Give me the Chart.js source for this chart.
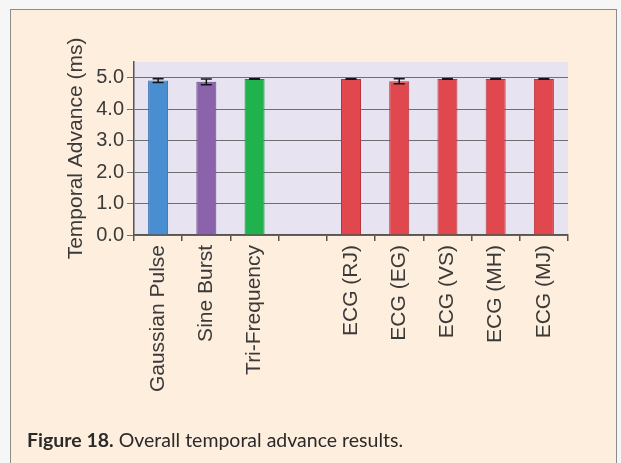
<!DOCTYPE html>
<html>
<head>
<meta charset="utf-8">
<script src="https://cdn.jsdelivr.net/npm/chart.js@4.4.1/dist/chart.umd.min.js"></script>
<style>
  html, body { margin: 0; padding: 0; background: #f6f6f6; }
  body { width: 621px; height: 463px; position: relative; overflow: hidden; }
  #frame { position: absolute; left: 10px; top: 9px; width: 605px; height: 480px; background: #fdeedd; border: 1px solid #8c8c8c; }
  #plot { position: absolute; left: 0; top: 0; }
  #caption { position: absolute; left: 27px; top: 429px; font-family: Lato, "Open Sans", sans-serif; font-size: 19.5px; line-height: 22px; color: #2a2a2a; white-space: nowrap; }
  #caption b { font-weight: 700; }
</style>
</head>
<body>
<div id="frame"></div>
<canvas id="plot" width="621" height="463"></canvas>
<div id="caption"><b>Figure 18.</b> Overall temporal advance results.</div>
<script>
// data
var categories = ['Gaussian Pulse', 'Sine Burst', 'Tri-Frequency', '', 'ECG (RJ)', 'ECG (EG)', 'ECG (VS)', 'ECG (MH)', 'ECG (MJ)'];
var temporalAdvance = [4.91, 4.87, 4.96, null, 4.96, 4.89, 4.96, 4.96, 4.96];
var errorMargin = [0.06, 0.09, 0.01, null, 0.01, 0.08, 0.01, 0.01, 0.01];
var barColors = ['#4a8ed2', '#8a63ab', '#1fb24d', null, '#e1474f', '#e1474f', '#e1474f', '#e1474f', '#e1474f'];
var barEdges = ['#2f6fae', '#6a4a8a', '#16903c', null, '#b8353c', '#b8353c', '#b8353c', '#b8353c', '#b8353c'];
var yTicks = [0, 1, 2, 3, 4, 5];

var axisFont = "'Liberation Sans', Arial, Helvetica, sans-serif";

var plotBackground = {
  id: 'plotBackground',
  beforeDraw: function (chart) {
    var ctx = chart.ctx, a = chart.chartArea;
    ctx.save();
    ctx.fillStyle = '#e7e3f1';
    ctx.fillRect(a.left, a.top, a.right - a.left, a.bottom - a.top);
    ctx.restore();
  }
};

var errorBars = {
  id: 'errorBars',
  afterDatasetsDraw: function (chart) {
    var ctx = chart.ctx, y = chart.scales.y;
    var meta = chart.getDatasetMeta(0);
    ctx.save();
    ctx.strokeStyle = '#151515';
    ctx.lineWidth = 1.5;
    meta.data.forEach(function (bar, i) {
      var v = temporalAdvance[i], e = errorMargin[i];
      if (v == null) return;
      var top = y.getPixelForValue(v + e);
      var bot = y.getPixelForValue(v - e);
      ctx.beginPath();
      ctx.moveTo(bar.x, top); ctx.lineTo(bar.x, bot);
      ctx.moveTo(bar.x - 5.5, top); ctx.lineTo(bar.x + 5.5, top);
      ctx.moveTo(bar.x - 5.5, bot); ctx.lineTo(bar.x + 5.5, bot);
      ctx.stroke();
    });
    ctx.restore();
  }
};

new Chart(document.getElementById('plot').getContext('2d'), {
  type: 'bar',
  data: {
    labels: categories,
    datasets: [{
      data: temporalAdvance,
      backgroundColor: barColors,
      borderColor: barEdges,
      borderWidth: 1,
      barPercentage: 0.415,
      categoryPercentage: 1.0
    }]
  },
  options: {
    responsive: false,
    animation: false,
    devicePixelRatio: 1,
    layout: { padding: { left: 64, top: 62, right: 53, bottom: 0 } },
    plugins: {
      legend: { display: false },
      tooltip: { enabled: false }
    },
    scales: {
      x: {
        offset: true,
        grid: { offset: true, drawOnChartArea: false, drawTicks: true, tickLength: 6, color: '#555', lineWidth: 1.5 },
        border: { display: true, color: '#555', width: 1.5 },
        ticks: {
          autoSkip: false,
          minRotation: 90,
          maxRotation: 90,
          padding: 4,
          color: '#3a3a3a',
          font: { family: axisFont, size: 21 }
        },
        afterFit: function (scale) { scale.height = 228; }
      },
      y: {
        min: 0,
        max: 5.5,
        afterBuildTicks: function (scale) {
          scale.ticks = yTicks.map(function (v) { return { value: v }; });
        },
        grid: { color: '#6f6f6f', lineWidth: 1, tickLength: 7, drawTicks: true },
        border: { display: true, color: '#555', width: 1.5 },
        ticks: {
          padding: 3,
          color: '#3a3a3a',
          font: { family: axisFont, size: 20 },
          callback: function (v) { return Number(v).toFixed(1); }
        },
        title: {
          display: true,
          text: 'Temporal Advance (ms)',
          color: '#3a3a3a',
          padding: { top: 0, bottom: 0 },
          font: { family: axisFont, size: 21 }
        },
        afterFit: function (scale) { scale.width = 70; }
      }
    }
  },
  plugins: [plotBackground, errorBars]
});
</script>
</body>
</html>
